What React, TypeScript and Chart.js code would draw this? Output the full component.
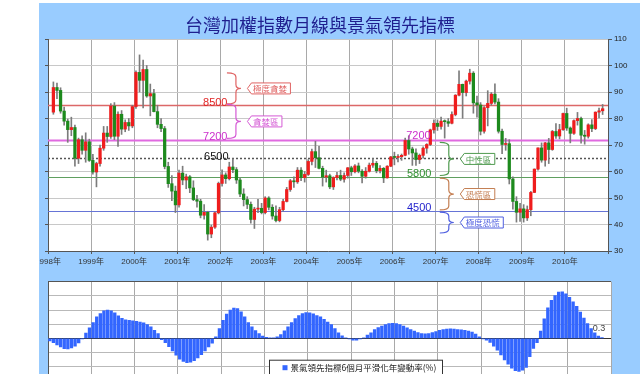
import React, { useEffect, useRef } from 'react';
import { Chart, registerables } from 'chart.js';
Chart.register(...registerables);

const TITLE = '台灣加權指數月線與景氣領先指標';
const LEGEND_TEXT = '景氣領先指標6個月平滑化年變動率(%)';
const START_YEAR = 1998;
const TOTAL_MONTHS = 156; // Jan 1998 .. Dec 2010
const CANDLE_FIRST_MONTH = 1; // candles start Feb 1998
const BAR_FIRST_MONTH = 0; // bars start Jan 1998

// TAIEX monthly candles (index / 100), Feb 1998 .. Nov 2010
const taiexOpen = [
  82.4, 91.7, 90.6, 82.8, 79.0, 75.8, 76.6, 65.0, 72.0, 68.0, 71.2,
  64.2, 59.8, 63.0, 68.8, 74.5, 73.2, 84.7, 73.3, 81.6, 76.0, 78.5, 77.2,
  84.5, 97.4, 94.4, 98.5, 88.5, 89.4, 82.6, 77.8, 76.2, 61.9, 55.4, 52.6,
  47.4, 59.4, 56.8, 58.0, 53.8, 49.4, 48.8, 43.5, 44.6, 36.4, 39.0, 44.4,
  55.5, 58.7, 57.3, 61.7, 60.7, 56.8, 51.5, 49.4, 47.6, 41.9, 45.8, 46.1,
  44.5, 50.0, 46.5, 43.2, 41.5, 45.6, 48.7, 53.2, 56.5, 56.1, 60.5, 57.7,
  58.9, 63.8, 67.5, 65.2, 61.2, 57.9, 58.4, 54.2, 57.7, 58.5, 57.1, 58.5,
  61.4, 59.9, 62.1, 60.1, 58.2, 60.1, 62.4, 63.1, 60.3, 61.2, 57.6, 62.0,
  65.5, 65.3, 65.6, 66.1, 71.7, 68.5, 67.0, 64.5, 66.1, 68.8, 70.2, 75.7,
  78.2, 77.0, 79.0, 78.8, 78.2, 81.5, 88.8, 92.9, 89.8, 94.1, 97.1, 85.9,
  85.1, 75.2, 84.1, 85.7, 89.2, 86.2, 75.2, 70.2, 70.5, 57.2, 48.7, 44.6,
  45.9, 42.5, 45.6, 52.1, 60.9, 68.9, 64.3, 70.8, 68.3, 75.1, 73.4, 75.8,
  81.9, 76.4, 74.4, 79.2, 80.0, 73.7, 73.3, 77.6, 76.2, 82.4, 82.9,
];
const taiexHigh = [
  93.8, 93.4, 91.6, 84.3, 79.8, 80.5, 77.5, 72.6, 73.5, 74.6, 72.2,
  66.5, 63.5, 70.0, 77.0, 77.0, 85.6, 86.0, 82.5, 83.0, 79.5, 80.0, 85.0,
  98.0, 104.0, 102.0, 100.0, 93.0, 91.0, 85.0, 80.0, 77.0, 63.5, 58.5, 54.5,
  60.5, 62.0, 59.0, 58.5, 56.5, 51.0, 49.5, 47.5, 45.0, 39.8, 44.8, 56.0,
  60.6, 59.5, 63.5, 64.8, 61.5, 57.5, 53.5, 50.5, 48.5, 46.5, 49.5, 48.0,
  50.5, 50.5, 47.5, 47.0, 46.5, 49.5, 54.0, 57.0, 58.0, 61.5, 61.5, 60.0,
  64.5, 68.5, 71.4, 69.5, 62.0, 60.5, 59.0, 58.0, 59.7, 60.5, 59.5, 61.5,
  62.0, 62.6, 63.2, 60.7, 61.5, 63.2, 64.9, 63.8, 62.2, 61.5, 62.2, 65.7,
  67.3, 66.4, 66.6, 72.6, 73.5, 69.2, 68.6, 66.6, 69.3, 70.5, 76.0, 79.5,
  79.5, 80.5, 79.5, 80.0, 82.5, 89.0, 98.0, 93.0, 94.5, 98.6, 97.7, 88.5,
  86.0, 84.5, 90.5, 89.8, 93.1, 87.5, 76.0, 72.5, 72.0, 58.0, 50.5, 48.0,
  47.5, 47.0, 52.5, 61.0, 68.9, 70.8, 71.0, 72.5, 75.5, 78.1, 77.8, 82.0,
  83.9, 76.8, 79.5, 82.3, 80.5, 75.5, 78.0, 79.6, 82.5, 83.9, 85.3,
];
const taiexLow = [
  81.6, 87.5, 82.0, 77.5, 71.0, 73.5, 62.0, 63.0, 66.5, 63.5, 63.8,
  59.0, 54.2, 62.0, 68.0, 71.0, 72.5, 72.0, 69.5, 74.0, 75.0, 75.5, 76.5,
  83.8, 90.0, 84.0, 88.0, 81.0, 82.5, 76.5, 75.0, 61.0, 54.0, 49.0, 44.5,
  46.5, 55.0, 53.5, 52.0, 49.0, 46.5, 42.5, 42.0, 34.1, 35.0, 38.5, 44.0,
  54.5, 55.5, 56.8, 59.6, 55.5, 50.5, 47.0, 46.0, 40.5, 38.5, 44.5, 44.0,
  44.0, 45.5, 42.0, 41.0, 41.0, 45.0, 48.5, 52.5, 54.0, 55.5, 56.5, 56.0,
  58.5, 62.5, 61.5, 61.0, 54.5, 56.0, 53.5, 53.2, 56.8, 56.5, 56.0, 57.5,
  58.5, 59.5, 59.5, 55.7, 57.5, 59.8, 61.5, 59.5, 59.5, 55.8, 57.5, 61.8,
  62.5, 63.6, 64.2, 65.9, 66.5, 62.3, 62.3, 63.0, 65.0, 66.9, 69.8, 74.5,
  75.5, 76.0, 72.6, 77.0, 78.0, 81.0, 88.5, 80.1, 88.5, 93.0, 82.0, 80.5,
  73.8, 74.5, 77.2, 85.0, 85.5, 74.5, 66.7, 68.0, 55.3, 45.8, 40.9, 41.2,
  40.9, 41.5, 43.3, 52.0, 60.5, 63.5, 62.0, 63.0, 68.0, 72.5, 72.3, 75.5,
  75.5, 70.8, 74.0, 77.5, 70.7, 70.3, 72.6, 75.0, 75.8, 80.2, 81.5,
];
const taiexClose = [
  91.7, 90.6, 82.8, 79.0, 75.8, 76.6, 65.0, 72.0, 68.0, 71.2, 64.2,
  59.8, 63.0, 68.8, 74.5, 73.2, 84.7, 73.3, 81.6, 76.0, 78.5, 77.2, 84.5,
  97.4, 94.4, 98.5, 88.5, 89.4, 82.6, 77.8, 76.2, 61.9, 55.4, 52.6, 47.4,
  59.4, 56.8, 58.0, 53.8, 49.4, 48.8, 43.5, 44.6, 36.4, 39.0, 44.4, 55.5,
  58.7, 57.3, 61.7, 60.7, 56.8, 51.5, 49.4, 47.6, 41.9, 45.8, 46.1, 44.5,
  50.0, 46.5, 43.2, 41.5, 45.6, 48.7, 53.2, 56.5, 56.1, 60.5, 57.7, 58.9,
  63.8, 67.5, 65.2, 61.2, 57.9, 58.4, 54.2, 57.7, 58.5, 57.1, 58.5, 61.4,
  59.9, 62.1, 60.1, 58.2, 60.1, 62.4, 63.1, 60.3, 61.2, 57.6, 62.0, 65.5,
  65.3, 65.6, 66.1, 71.7, 68.5, 67.0, 64.5, 66.1, 68.8, 70.2, 75.7, 78.2,
  77.0, 79.0, 78.8, 78.2, 81.5, 88.8, 92.9, 89.8, 94.1, 97.1, 85.9, 85.1,
  75.2, 84.1, 85.7, 89.2, 86.2, 75.2, 70.2, 70.5, 57.2, 48.7, 44.6, 45.9,
  42.5, 45.6, 52.1, 60.9, 68.9, 64.3, 70.8, 68.3, 75.1, 73.4, 75.8, 81.9,
  76.4, 74.4, 79.2, 80.0, 73.7, 73.3, 77.6, 76.2, 82.4, 82.9, 83.7,
];

// Leading indicator, 6-month smoothed annual change (%), Jan 1998 .. Oct 2010
const leadingChange = [
  -0.9, -1.5, -2.3, -3.0, -3.6, -3.7, -3.3, -2.7, -1.6, -0.2, 1.9, 3.7,
  5.6, 7.6, 8.8, 9.7, 10.0, 9.7, 9.0, 8.0, 7.1, 6.6, 6.4, 6.2,
  6.0, 5.8, 5.5, 4.9, 4.1, 2.9, 1.7, -0.4, -1.5, -2.9, -4.4, -5.9,
  -7.3, -8.1, -8.5, -8.4, -7.8, -6.9, -5.7, -4.4, -3.0, -1.7, 0.6, 3.5,
  6.4, 8.6, 10.0, 10.7, 10.5, 9.4, 7.6, 5.6, 4.1, 2.8, 1.7, 0.8,
  0.35, 0.2, 0.2, 0.6, 1.4, 2.7, 4.1, 5.6, 7.0, 8.1, 8.8, 9.1,
  9.0, 8.7, 8.1, 7.6, 6.7, 5.8, 4.9, 3.5, 2.0, 0.9, 0.2, -0.2,
  -0.6, -0.6, -0.2, 0.2, 1.2, 2.0, 3.1, 3.8, 4.4, 4.9, 5.2, 5.3,
  5.2, 4.9, 4.4, 3.7, 3.1, 2.6, 2.1, 1.7, 1.6, 1.7, 2.1, 2.4,
  2.9, 3.1, 3.3, 3.4, 3.3, 3.1, 3.0, 2.9, 2.6, 2.2, 1.5, 0.6,
  -0.1, -0.6, -1.4, -2.7, -4.1, -5.8, -7.6, -9.1, -10.5, -11.4, -11.6, -11.2,
  -10.2, -6.4, -3.5, -1.5, 2.6, 6.9, 10.8, 13.4, 15.1, 16.3, 16.4, 15.7,
  14.5, 12.9, 11.3, 9.3, 7.2, 5.2, 3.5, 2.0, 0.8, 0.3,
];

// Reference levels (index / 100)
const refLevels = [85, 72, 65, 58, 45];
// Sentiment zones
const zoneNames = ['極度貪婪', '貪婪區', '中性區', '恐慌區', '極度恐慌'];
const zoneTops = [97.2, 85.3, 71.0, 57.5, 44.7];
const zoneBottoms = [85.5, 72.5, 58.5, 45.5, 36.8];

// ---- styling / placement (not data) ----
const LAT = "'Liberation Sans', 'Noto Sans CJK TC', sans-serif";
const CJK = "'Noto Sans CJK TC', sans-serif";
const UP = '#ef1d1d';
const DOWN = '#1d8a1d';
const WICK = '#7c7c7c';
const BAR_BLUE = '#3366ff';

const refLineStyle = [
  { color: '#dc6868', width: 1.3, dash: [] as number[] },
  { color: '#e06ae0', width: 2, dash: [] as number[] },
  { color: '#555555', width: 1.5, dash: [2, 2] },
  { color: '#5f9f5f', width: 1, dash: [] as number[] },
  { color: '#6674d6', width: 1, dash: [] as number[] },
];
const levelTags = [
  { level: 0, month: 50.0, color: '#e02424', dy: 1 },
  { level: 1, month: 50.0, color: '#cc2fcc', dy: 0 },
  { level: 2, month: 50.3, color: '#111111', dy: 2 },
  { level: 1, month: 106.6, color: '#cc2fcc', dy: -1 },
  { level: 3, month: 106.8, color: '#2f8f2f', dy: 0 },
  { level: 4, month: 106.8, color: '#1f1fcc', dy: 0 },
];
const zoneMonth = [50.4, 50.4, 109.7, 109.7, 109.7];
const zoneColor = ['#e06464', '#d55ad5', '#4f9a4f', '#c47e52', '#4f5fe0'];

const yearLabel = (v: number) => (v < TOTAL_MONTHS ? `${START_YEAR + v / 12}年` : '');

const whiteArea = {
  id: 'whiteArea',
  beforeDraw(chart: any) {
    const { ctx, chartArea: a } = chart;
    ctx.save();
    ctx.fillStyle = '#ffffff';
    ctx.fillRect(a.left, a.top, a.right - a.left, a.bottom - a.top);
    ctx.restore();
  },
};

const topDecor = {
  id: 'topDecor',
  beforeDatasetsDraw(chart: any) {
    const { ctx, chartArea: a, scales } = chart;
    refLevels.forEach((v, i) => {
      const s = refLineStyle[i];
      const py = Math.round(scales.y.getPixelForValue(v)) + 0.5;
      ctx.save();
      ctx.strokeStyle = s.color;
      ctx.lineWidth = s.width;
      ctx.setLineDash(s.dash);
      ctx.beginPath();
      ctx.moveTo(a.left, py);
      ctx.lineTo(a.right, py);
      ctx.stroke();
      ctx.restore();
    });
  },
  afterDatasetsDraw(chart: any) {
    const { ctx, scales } = chart;
    const xs = scales.x, ys = scales.y;
    ctx.save();
    // level values
    ctx.font = `11px ${LAT}`;
    ctx.textAlign = 'right';
    ctx.textBaseline = 'alphabetic';
    levelTags.forEach((t) => {
      const v = refLevels[t.level];
      ctx.fillStyle = t.color;
      ctx.fillText(String(Math.round(v * 100)), xs.getPixelForValue(t.month), ys.getPixelForValue(v) + t.dy);
    });
    // braces + tags
    zoneNames.forEach((name, i) => {
      const x0 = xs.getPixelForValue(zoneMonth[i]);
      const xsTem = x0 + 7;
      const xc = x0 + 12;
      const yT = ys.getPixelForValue(zoneTops[i]);
      const yB = ys.getPixelForValue(zoneBottoms[i]);
      const ym = (yT + yB) / 2;
      const r = 4;
      ctx.strokeStyle = zoneColor[i];
      ctx.lineWidth = 1.2;
      ctx.setLineDash([]);
      ctx.beginPath();
      ctx.moveTo(x0 - 2, yT);
      ctx.quadraticCurveTo(xsTem, yT, xsTem, yT + r);
      ctx.lineTo(xsTem, ym - r);
      ctx.quadraticCurveTo(xsTem, ym, xc, ym);
      ctx.quadraticCurveTo(xsTem, ym, xsTem, ym + r);
      ctx.lineTo(xsTem, yB - r);
      ctx.quadraticCurveTo(xsTem, yB, x0 - 2, yB);
      ctx.stroke();
      // tag box
      ctx.font = `8.5px ${CJK}`;
      const tw = ctx.measureText(name).width;
      const xL = x0 + 18.5;
      const xR = xL + tw + 9;
      const h = 5.5;
      ctx.beginPath();
      ctx.moveTo(xL, ym);
      ctx.lineTo(xL + 4, ym - h);
      ctx.lineTo(xR, ym - h);
      ctx.lineTo(xR, ym + h);
      ctx.lineTo(xL + 4, ym + h);
      ctx.closePath();
      ctx.fillStyle = '#ffffff';
      ctx.fill();
      ctx.lineWidth = 1;
      ctx.stroke();
      ctx.fillStyle = zoneColor[i];
      ctx.textAlign = 'left';
      ctx.textBaseline = 'middle';
      ctx.fillText(name, xL + 5.5, ym + 0.5);
    });
    ctx.restore();
  },
  afterDraw(chart: any) {
    const { ctx } = chart;
    ctx.save();
    ctx.font = `18px ${CJK}`;
    ctx.fillStyle = '#1f1f8f';
    ctx.textAlign = 'center';
    ctx.textBaseline = 'middle';
    ctx.fillText(TITLE, 320, 25.5);
    ctx.restore();
  },
};

const bottomDecor = {
  id: 'bottomDecor',
  afterDatasetsDraw(chart: any) {
    const { ctx, chartArea: a, scales } = chart;
    ctx.save();
    // last value label
    const li = leadingChange.length - 1;
    ctx.font = `9px ${LAT}`;
    ctx.fillStyle = '#444444';
    ctx.textAlign = 'center';
    ctx.textBaseline = 'alphabetic';
    ctx.fillText(String(leadingChange[li]), scales.x.getPixelForValue(BAR_FIRST_MONTH + li + 0.5) - 3, scales.y.getPixelForValue(0) - 7);
    // legend box
    const bx = a.left + 221.5, by = a.top + 78.5, bw = 173, bh = 24;
    ctx.fillStyle = '#ffffff';
    ctx.fillRect(bx, by, bw, bh);
    ctx.strokeStyle = '#333333';
    ctx.lineWidth = 1;
    ctx.strokeRect(bx, by, bw, bh);
    ctx.fillStyle = BAR_BLUE;
    ctx.fillRect(bx + 13, by + 5, 5, 5);
    ctx.fillStyle = '#222222';
    ctx.font = `8.5px ${CJK}`;
    ctx.textAlign = 'left';
    ctx.textBaseline = 'middle';
    ctx.fillText(LEGEND_TEXT, bx + 21, by + 8);
    ctx.restore();
  },
};

export default function App() {
  const topRef = useRef<HTMLCanvasElement>(null);
  const botRef = useRef<HTMLCanvasElement>(null);

  useEffect(() => {
    const bodyColors = taiexClose.map((c, i) => (c >= taiexOpen[i] ? UP : DOWN));
    const top = new Chart(topRef.current as HTMLCanvasElement, {
      type: 'bar',
      data: {
        datasets: [
          {
            label: 'body',
            data: taiexOpen.map((o, i) => ({ x: CANDLE_FIRST_MONTH + i + 0.5, y: [o, taiexClose[i]] })) as any,
            backgroundColor: bodyColors,
            barThickness: 2.6,
            minBarLength: 1,
            grouped: false,
            borderWidth: 0,
          } as any,
          {
            label: 'wick',
            data: taiexLow.map((l, i) => ({ x: CANDLE_FIRST_MONTH + i + 0.5, y: [l, taiexHigh[i]] })) as any,
            backgroundColor: WICK,
            barThickness: 1,
            grouped: false,
            borderWidth: 0,
          } as any,
        ],
      },
      options: {
        animation: false,
        responsive: false,
        events: [],
        layout: { padding: { left: 39, right: 0, top: 39, bottom: 0 } },
        plugins: { legend: { display: false }, tooltip: { enabled: false }, title: { display: false } },
        scales: {
          x: {
            type: 'linear',
            min: 0,
            max: TOTAL_MONTHS,
            offset: false,
            ticks: {
              stepSize: 12,
              autoSkip: false,
              maxRotation: 0,
              callback: (v: any) => yearLabel(Number(v)),
              font: { size: 8, family: LAT },
              color: '#333333',
              padding: 3,
            },
            grid: { color: '#a9a9a9', tickLength: 3, tickColor: '#555555', offset: false },
            border: { color: '#555555' },
            afterFit: (s: any) => { s.height = 19; },
          } as any,
          y: {
            type: 'linear',
            position: 'right',
            min: 30,
            max: 110,
            ticks: { stepSize: 10, font: { size: 8, family: LAT }, color: '#222222', padding: 2 },
            grid: { color: '#c8c8c8', tickLength: 4, tickColor: '#555555' },
            border: { color: '#555555' },
            afterFit: (s: any) => { s.width = 32; },
          } as any,
          yL: {
            type: 'linear',
            position: 'left',
            min: 30,
            max: 110,
            ticks: { display: false, stepSize: 10 },
            grid: { drawOnChartArea: false, tickLength: 3, color: '#555555' },
            border: { color: '#555555' },
            afterFit: (s: any) => { s.width = 9; },
          } as any,
        },
      },
      plugins: [whiteArea, topDecor],
    } as any);

    const bot = new Chart(botRef.current as HTMLCanvasElement, {
      type: 'bar',
      data: {
        datasets: [
          {
            label: LEGEND_TEXT,
            data: leadingChange.map((v, i) => ({ x: BAR_FIRST_MONTH + i + 0.5, y: v })) as any,
            backgroundColor: BAR_BLUE,
            barThickness: 2.7,
            borderWidth: 0,
          } as any,
        ],
      },
      options: {
        animation: false,
        responsive: false,
        events: [],
        layout: { padding: { left: 39, right: 29, top: 11.7, bottom: 0 } },
        plugins: { legend: { display: false }, tooltip: { enabled: false } },
        scales: {
          x: {
            type: 'linear',
            min: 0,
            max: TOTAL_MONTHS,
            offset: false,
            ticks: { display: false, stepSize: 12 },
            grid: { color: '#a9a9a9', drawTicks: false, offset: false },
            border: { display: false },
            afterFit: (s: any) => { s.height = 2; },
          } as any,
          y: {
            type: 'linear',
            position: 'left',
            min: -15,
            max: 20,
            ticks: { display: false, stepSize: 5 },
            grid: {
              drawTicks: false,
              color: (c: any) => (c.tick && c.tick.value === 0 ? '#333333' : c.tick && c.tick.value === 20 ? '#555555' : '#b9b9b9'),
            },
            border: { color: '#555555' },
            afterFit: (s: any) => { s.width = 9; },
          } as any,
        },
      },
      plugins: [whiteArea, bottomDecor],
    } as any);

    return () => {
      top.destroy();
      bot.destroy();
    };
  }, []);

  return (
    <div style={{ position: 'absolute', left: 0, top: 0, width: 640, height: 392, background: '#ffffff', overflow: 'hidden' }}>
      <div style={{ position: 'absolute', left: 39, top: 3, width: 601, height: 371, background: '#99ccff', overflow: 'hidden' }}>
        <div style={{ position: 'absolute', left: -39, top: -3, width: 640, height: 270 }}>
          <canvas ref={topRef} width={640} height={270} style={{ width: 640, height: 270, display: 'block' }} />
        </div>
        <div style={{ position: 'absolute', left: -39, top: 267, width: 640, height: 113 }}>
          <canvas ref={botRef} width={640} height={113} style={{ width: 640, height: 113, display: 'block' }} />
        </div>
      </div>
    </div>
  );
}
